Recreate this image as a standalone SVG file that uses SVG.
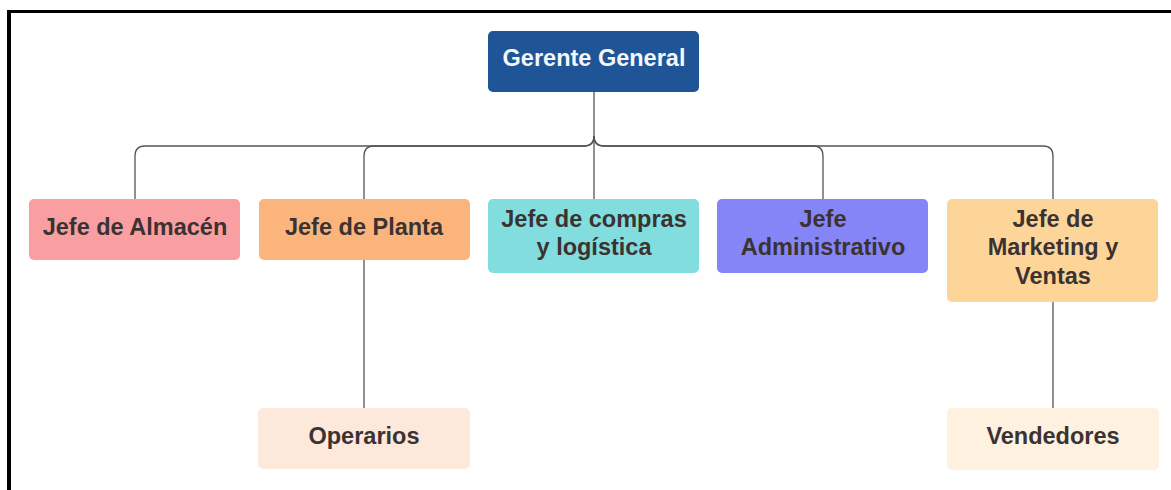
<svg xmlns="http://www.w3.org/2000/svg" width="1171" height="490" viewBox="0 0 1171 490">
  <style>
    .box { stroke: none; }
    .lbl { font-family: "Liberation Sans", Arial, sans-serif; font-weight: bold; font-size: 23.5px; fill: #3b3232; text-anchor: middle; }
    .lbl.light { fill: #f4f6fa; }
    .wire { fill: none; stroke: #555; stroke-width: 1.3; }
  </style>
  <rect width="1171" height="490" fill="#ffffff"/>
  <!-- frame edges -->
  <line x1="7" y1="11.5" x2="1171" y2="11.5" stroke="#000" stroke-width="3"/>
  <line x1="9" y1="10" x2="9" y2="490" stroke="#000" stroke-width="4"/>

  <g id="connectors">
    <path class="wire" d="M594 92 V199"/>
    <path class="wire" d="M594 136 Q594 146 584 146 H145 Q135 146 135 156 V199"/>
    <path class="wire" d="M594 136 Q594 146 584 146 H374 Q364 146 364 156 V199"/>
    <path class="wire" d="M594 136 Q594 146 604 146 H813 Q823 146 823 156 V199"/>
    <path class="wire" d="M594 136 Q594 146 604 146 H1043 Q1053 146 1053 156 V199"/>
    <path class="wire" d="M364 260 V408"/>
    <path class="wire" d="M1053 302 V408"/>
  </g>

  <g id="gerente-general">
    <rect class="box" x="488" y="31" width="211" height="61" rx="5" fill="#1f5596"/>
    <text class="lbl light" x="594" y="66">Gerente General</text>
  </g>
  <g id="jefe-almacen">
    <rect class="box" x="29" y="199" width="211" height="61" rx="5" fill="#f99fa1"/>
    <text class="lbl" x="135" y="235">Jefe de Almacén</text>
  </g>
  <g id="jefe-planta">
    <rect class="box" x="259" y="199" width="211" height="61" rx="5" fill="#fbb57c"/>
    <text class="lbl" x="364" y="235">Jefe de Planta</text>
  </g>
  <g id="jefe-compras">
    <rect class="box" x="488" y="199" width="211" height="74" rx="5" fill="#82dede"/>
    <text class="lbl" x="594" y="227">Jefe de compras</text>
    <text class="lbl" x="594" y="255">y logística</text>
  </g>
  <g id="jefe-administrativo">
    <rect class="box" x="717" y="199" width="211" height="74" rx="5" fill="#8585f7"/>
    <text class="lbl" x="823" y="227">Jefe</text>
    <text class="lbl" x="823" y="255">Administrativo</text>
  </g>
  <g id="jefe-marketing">
    <rect class="box" x="947" y="199" width="211" height="103" rx="5" fill="#fed598"/>
    <text class="lbl" x="1053" y="227">Jefe de</text>
    <text class="lbl" x="1053" y="255">Marketing y</text>
    <text class="lbl" x="1053" y="284">Ventas</text>
  </g>
  <g id="operarios">
    <rect class="box" x="258" y="408" width="212" height="61" rx="5" fill="#fde9db"/>
    <text class="lbl" x="364" y="444">Operarios</text>
  </g>
  <g id="vendedores">
    <rect class="box" x="947" y="408" width="212" height="62" rx="5" fill="#fef1df"/>
    <text class="lbl" x="1053" y="444">Vendedores</text>
  </g>
</svg>
